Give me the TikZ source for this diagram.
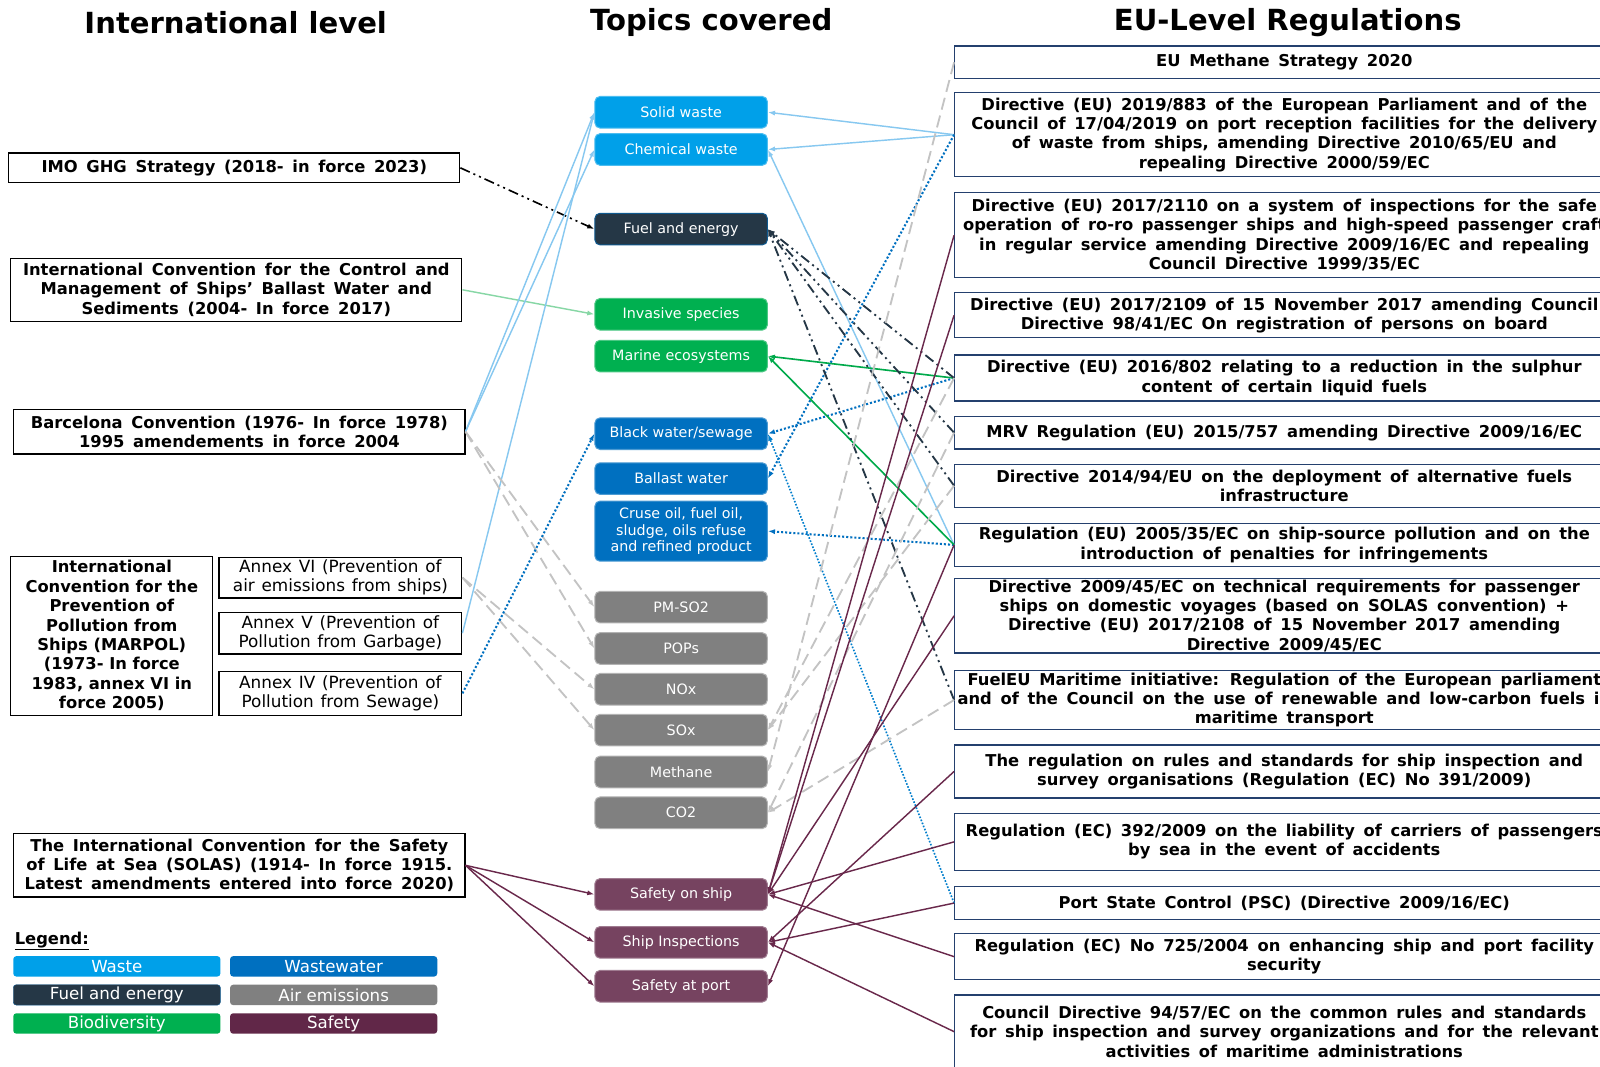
\documentclass[tikz,border=0pt]{standalone}
\usepackage{fontspec}
\setmainfont{DejaVu Sans}
\usetikzlibrary{arrows.meta}
\definecolor{wastec}{RGB}{0,160,233}
\definecolor{waterc}{RGB}{0,112,192}
\definecolor{fuelc}{RGB}{37,55,70}
\definecolor{airc}{RGB}{128,128,128}
\definecolor{bioc}{RGB}{0,176,80}
\definecolor{safec}{RGB}{118,67,96}
\definecolor{safelegc}{RGB}{97,39,72}
\definecolor{eublue}{RGB}{36,64,110}
\definecolor{lbluel}{RGB}{135,200,240}
\definecolor{lgreenl}{RGB}{135,215,165}
\definecolor{greenl}{RGB}{0,170,75}
\definecolor{greyl}{RGB}{195,195,195}
\definecolor{safel}{RGB}{105,40,75}
\newcommand{\boldtxt}{\fontsize{16}{19}\selectfont\bfseries\spaceskip 8.5pt\relax}
\newcommand{\plaintxt}{\fontsize{16.5}{19}\selectfont\spaceskip 6.6pt\relax}

\begin{document}
\begin{tikzpicture}[x=1pt,y=-1pt,
 intl/.style={draw=black, line width=1.2pt, fill=white, anchor=west, align=center, inner sep=0pt, font=\boldtxt},
 annex/.style={intl, font=\plaintxt, minimum width=238pt},
 eureg/.style={draw=eublue, line width=1.2pt, fill=white, anchor=west, align=center, inner sep=0pt, minimum width=646pt, font=\boldtxt},
 topic/.style={rounded corners=5pt, minimum width=169pt, minimum height=31pt, inner sep=0pt, text=white, line width=1pt, font=\fontsize{14}{16.5}\selectfont, align=center},
 legbox/.style={rounded corners=3pt, minimum width=203pt, minimum height=20pt, inner sep=0pt, text=white, font=\fontsize{16.3}{19}\selectfont},
 title/.style={font=\fontsize{28.5}{32}\selectfont\bfseries},
 link/.style={line width=1.4pt, -{Latex[length=7pt,width=5pt]}},
 fuelline/.style={link, fuelc, line width=1.8pt, dash pattern=on 10pt off 4pt on 2pt off 4pt on 2pt off 4pt},
 airline/.style={link, greyl, line width=1.8pt, dash pattern=on 12pt off 6pt},
 waterline/.style={link, waterc, line width=2pt, dash pattern=on 2pt off 2pt},
]
\clip (0,0) rectangle (1568,1045);
\fill[white] (0,0) rectangle (1568,1045);

% headings
\node[title] (h1) at (231,22) {International level};
\node[title] (h2) at (697,22) {Topics covered};
\node[title] (h3) at (1262,22) {EU-Level Regulations};

% international level
\node[intl, minimum width=442pt, minimum height=29pt] (imo) at (8,164.5) {IMO GHG Strategy (2018- in force 2023)};
\node[intl, minimum width=442pt, minimum height=62pt] (bwm) at (10,284) {International Convention for the Control and\\Management of Ships’ Ballast Water and\\Sediments (2004- In force 2017)};
\node[intl, minimum width=442pt, minimum height=44pt] (barc) at (13,423) {Barcelona Convention (1976- In force 1978)\\1995 amendements in force 2004};
\node[intl, minimum width=198pt, minimum height=156pt, font=\fontsize{16}{19}\selectfont\bfseries] (marpol) at (10,623) {International\\Convention for the\\Prevention of\\Pollution from\\Ships (MARPOL)\\(1973- In force\\1983, annex VI in\\force 2005)};
\node[annex, minimum height=40pt] (annexvi) at (214,566) {Annex VI (Prevention of\\air emissions from ships)};
\node[annex, minimum height=41pt] (annexv) at (214,620.5) {Annex V (Prevention of\\Pollution from Garbage)};
\node[annex, minimum height=43pt] (annexiv) at (214,679.5) {Annex IV (Prevention of\\Pollution from Sewage)};
\node[intl, minimum width=442pt, minimum height=62pt] (solas) at (13,848) {The International Convention for the Safety\\of Life at Sea (SOLAS) (1914- In force 1915.\\Latest amendments entered into force 2020)};

% topics
\node[topic, fill=wastec, draw=wastec!70!white] (solid) at (667.5,110) {Solid waste};
\node[topic, fill=wastec, draw=wastec!70!white] (chem) at (667.5,146.5) {Chemical waste};
\node[topic, fill=fuelc, draw=waterc!60!fuelc] (fuel) at (667.5,224.5) {Fuel and energy};
\node[topic, fill=bioc, draw=bioc!70!white] (inv) at (667.5,308) {Invasive species};
\node[topic, fill=bioc, draw=bioc!70!white] (mar) at (667.5,349) {Marine ecosystems};
\node[topic, fill=waterc, draw=waterc!70!white] (bws) at (667.5,425) {Black water/sewage};
\node[topic, fill=waterc, draw=waterc!70!white] (ball) at (667.5,469) {Ballast water};
\node[topic, fill=waterc, draw=waterc!70!white, minimum height=59pt] (crude) at (667.5,520.5) {Cruse oil, fuel oil,\\sludge, oils refuse\\and refined product};
\node[topic, fill=airc, draw=airc!60!white] (pm) at (667.5,595) {PM-SO2};
\node[topic, fill=airc, draw=airc!60!white] (pops) at (667.5,635.5) {POPs};
\node[topic, fill=airc, draw=airc!60!white] (nox) at (667.5,675.5) {NOx};
\node[topic, fill=airc, draw=airc!60!white] (sox) at (667.5,715.5) {SOx};
\node[topic, fill=airc, draw=airc!60!white] (methane) at (667.5,756.5) {Methane};
\node[topic, fill=airc, draw=airc!60!white] (co2) at (667.5,796.5) {CO2};
\node[topic, fill=safec, draw=safec!70!white] (sship) at (667.5,876.5) {Safety on ship};
\node[topic, fill=safec, draw=safec!70!white] (sinsp) at (667.5,923.5) {Ship Inspections};
\node[topic, fill=safec, draw=safec!70!white] (sport) at (667.5,966.5) {Safety at port};

% EU level
\node[eureg, minimum height=32pt] (meth) at (935,61) {EU Methane Strategy 2020};
\node[eureg, minimum height=82pt] (d883) at (935,132) {Directive (EU) 2019/883 of the European Parliament and of the\\Council of 17/04/2019 on port reception facilities for the delivery\\of waste from ships, amending Directive 2010/65/EU and\\repealing Directive 2000/59/EC};
\node[eureg, minimum height=83pt] (d2110) at (935,230.5) {Directive (EU) 2017/2110 on a system of inspections for the safe\\operation of ro-ro passenger ships and high-speed passenger craft\\in regular service amending Directive 2009/16/EC and repealing\\Council Directive 1999/35/EC};
\node[eureg, minimum height=44pt] (d2109) at (935,309) {Directive (EU) 2017/2109 of 15 November 2017 amending Council\\Directive 98/41/EC On registration of persons on board};
\node[eureg, minimum height=45pt] (d802) at (935,370.5) {Directive (EU) 2016/802 relating to a reduction in the sulphur\\content of certain liquid fuels};
\node[eureg, minimum height=32pt] (mrv) at (935,424) {MRV Regulation (EU) 2015/757 amending Directive 2009/16/EC};
\node[eureg, minimum height=42pt] (d9414) at (935,476) {Directive 2014/94/EU on the deployment of alternative fuels\\infrastructure};
\node[eureg, minimum height=42pt] (r2005) at (935,534) {Regulation (EU) 2005/35/EC on ship-source pollution and on the\\introduction of penalties for infringements};
\node[eureg, minimum height=73pt] (d0945) at (935,603.5) {Directive 2009/45/EC on technical requirements for passenger\\ships on domestic voyages (based on SOLAS convention) +\\Directive (EU) 2017/2108 of 15 November 2017 amending\\Directive 2009/45/EC};
\node[eureg, minimum height=58pt] (fueleu) at (935,686) {FuelEU Maritime initiative: Regulation of the European parliament\\and of the Council on the use of renewable and low-carbon fuels in\\maritime transport};
\node[eureg, minimum height=52pt] (r391) at (935,756) {The regulation on rules and standards for ship inspection and\\survey organisations (Regulation (EC) No 391/2009)};
\node[eureg, minimum height=56pt] (r392) at (935,825) {Regulation (EC) 392/2009 on the liability of carriers of passengers\\by sea in the event of accidents};
\node[eureg, minimum height=32pt] (psc) at (935,885) {Port State Control (PSC) (Directive 2009/16/EC)};
\node[eureg, minimum height=45pt] (r725) at (935,937.5) {Regulation (EC) No 725/2004 on enhancing ship and port facility\\security};
\node[eureg, minimum height=72pt] (c9457) at (935,1011) {Council Directive 94/57/EC on the common rules and standards\\for ship inspection and survey organizations and for the relevant\\activities of maritime administrations};

% legend
\node[anchor=west, font=\fontsize{16}{19}\selectfont\bfseries] (legend) at (11,922) {\underline{Legend:}};
\node[legbox, fill=wastec] (lwaste) at (114.5,947) {Waste};
\node[legbox, fill=waterc] (lwater) at (327,947) {Wastewater};
\node[legbox, fill=fuelc, draw=waterc!60!fuelc] (lfuel) at (114.5,975) {Fuel and energy};
\node[legbox, fill=airc] (lair) at (327,975) {Air emissions};
\node[legbox, fill=bioc] (lbio) at (114.5,1003) {Biodiversity};
\node[legbox, fill=safelegc] (lsafe) at (327,1003) {Safety};

% international level -> topics
\draw[link, black, line width=1.6pt, dash pattern=on 10pt off 4pt on 2pt off 4pt on 2pt off 4pt] (imo.east) -- (fuel.west);
\draw[link, lgreenl] (bwm.east) -- (inv.west);
\draw[link, lbluel] (barc.east) -- (solid.west);
\draw[link, lbluel] (barc.east) -- (chem.west);
\draw[link, lbluel] (annexv.east) -- (solid.west);
\draw[airline] (barc.east) -- (pm.west);
\draw[airline] (barc.east) -- (pops.west);
\draw[airline] (annexvi.east) -- (nox.west);
\draw[airline] (annexvi.east) -- (sox.west);
\draw[waterline] (annexiv.east) -- (bws.west);
\foreach \t in {sship,sinsp,sport}
  \draw[link, safel] (solas.east) -- (\t.west);

% EU level -> topics
\draw[link, lbluel] (d883.west) -- (solid.east);
\draw[link, lbluel] (d883.west) -- (chem.east);
\draw[link, lbluel] (r2005.west) -- (chem.east);
\draw[waterline] (d883.west) -- (ball.east);
\draw[waterline] (d802.west) -- (bws.east);
\draw[waterline] (r2005.west) -- (crude.east);
\draw[link, waterc!70!wastec, line width=1.6pt, dash pattern=on 1.6pt off 1.6pt] (psc.west) -- (bws.east);
\draw[link, greenl, line width=1.6pt] (d802.west) -- (mar.east);
\draw[link, greenl, line width=1.6pt] (r2005.west) -- (mar.east);
\foreach \r in {d802,mrv,d9414,fueleu}
  \draw[fuelline] (\r.west) -- (fuel.east);
\draw[airline] (meth.west) -- (methane.east);
\draw[airline] (d802.west) -- (sox.east);
\draw[airline] (d9414.west) -- (sox.east);
\draw[airline] (mrv.west) -- (co2.east);
\draw[airline] (fueleu.west) -- (co2.east);
\foreach \r in {d2110,d2109,d0945,r392,r725}
  \draw[link, safel] (\r.west) -- (sship.east);
\foreach \r in {r391,psc,c9457}
  \draw[link, safel] (\r.west) -- (sinsp.east);
\draw[link, safel] (r2005.west) -- (sport.east);
\end{tikzpicture}
\end{document}
